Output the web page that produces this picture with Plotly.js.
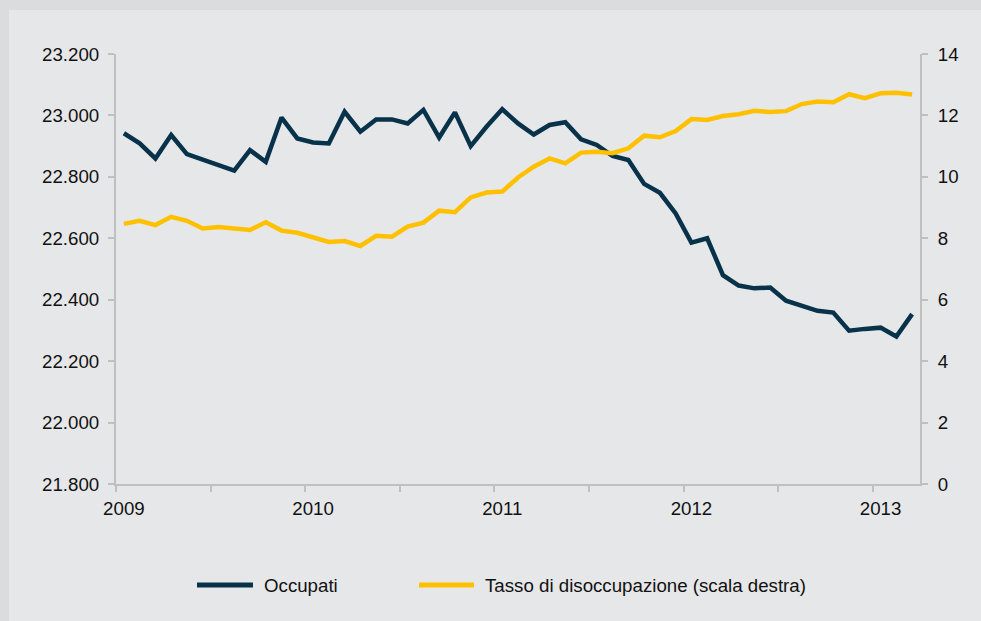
<!DOCTYPE html>
<html>
<head>
<meta charset="utf-8">
<script src="https://cdn.plot.ly/plotly-3.0.1.min.js"></script>
<style>
  html, body { margin: 0; padding: 0; background: #dbdcde; }
  #chart { position: absolute; left: 9px; top: 10px; width: 972px; height: 611px; }
</style>
</head>
<body>
<div id="chart"></div>
<script>
// Monthly observations, Jan 2009 – Mar 2013
const months = [
  "2009-01","2009-02","2009-03","2009-04","2009-05","2009-06","2009-07","2009-08","2009-09","2009-10","2009-11","2009-12",
  "2010-01","2010-02","2010-03","2010-04","2010-05","2010-06","2010-07","2010-08","2010-09","2010-10","2010-11","2010-12",
  "2011-01","2011-02","2011-03","2011-04","2011-05","2011-06","2011-07","2011-08","2011-09","2011-10","2011-11","2011-12",
  "2012-01","2012-02","2012-03","2012-04","2012-05","2012-06","2012-07","2012-08","2012-09","2012-10","2012-11","2012-12",
  "2013-01","2013-02","2013-03"
];
// Occupati (migliaia) – left axis
const occupati = [
  22942,22909,22860,22936,22874,22856,22838,22820,22887,22849,22993,22925,
  22912,22909,23012,22947,22987,22987,22974,23018,22928,23010,22900,22963,
  23020,22974,22938,22969,22978,22922,22904,22868,22855,22777,22748,22681,
  22586,22600,22480,22446,22437,22440,22397,22380,22364,22358,22299,22305,
  22309,22280,22353
];
// Tasso di disoccupazione (%) – right axis
const disoccupazione = [
  8.47,8.57,8.43,8.70,8.57,8.32,8.37,8.33,8.27,8.52,8.25,8.18,
  8.02,7.88,7.91,7.75,8.08,8.05,8.38,8.51,8.90,8.85,9.33,9.49,
  9.52,9.98,10.33,10.60,10.44,10.79,10.82,10.77,10.93,11.34,11.29,11.49,
  11.88,11.85,11.98,12.04,12.15,12.11,12.14,12.37,12.45,12.43,12.69,12.56,
  12.72,12.74,12.68
];
const seriesNames = ["Occupati", "Tasso di disoccupazione (scala destra)"];
const yearLabels = ["2009","2010","2011","2012","2013"];

const colNavy = "#07324a";
const colGold = "#ffc000";
const axisCol = "#c0c0c0";
const fontFam = "'Liberation Sans', Arial, sans-serif";
const fontSize = 18.7;

const idx = months.map((m, i) => i);
const yearTickVals = yearLabels.map(y => months.indexOf(y + "-01"));
const halfYearBounds = [];
for (let i = 0; i < months.length; i += 6) halfYearBounds.push(i - 0.5);

const traces = [
  { x: idx, y: occupati, name: seriesNames[0], type: "scatter", mode: "lines",
    line: { color: colNavy, width: 4.5, shape: "linear" }, yaxis: "y", showlegend: false },
  { x: idx, y: disoccupazione, name: seriesNames[1], type: "scatter", mode: "lines",
    line: { color: colGold, width: 4.5 }, yaxis: "y2", showlegend: false }
];

// custom legend (placed in paper coordinates below the plot)
const plotL = 116, plotW = 804, plotB = 474, plotH = 430;
const px = (pageX) => (pageX - plotL) / plotW;
const legY = (plotB - 575) / plotH;

const layout = {
  width: 972, height: 611,
  margin: { l: 107, r: 61, t: 44, b: 137 },
  paper_bgcolor: "#e6e7e9",
  plot_bgcolor: "#e6e7e9",
  separators: ",.",
  font: { family: fontFam, size: fontSize, color: "#111111" },
  showlegend: false,
  xaxis: {
    range: [-0.5, months.length - 0.5],
    tickmode: "array", tickvals: yearTickVals, ticktext: yearLabels,
    ticks: "", showgrid: false, zeroline: false,
    showline: true, linecolor: axisCol, linewidth: 2,
    ticklabelstandoff: 7,
    minor: { tickmode: "array", tickvals: halfYearBounds, ticks: "outside",
             ticklen: 6, tickwidth: 2, tickcolor: axisCol, showgrid: false },
    fixedrange: true
  },
  yaxis: {
    range: [21800, 23200], dtick: 200, tick0: 21800,
    tickformat: ",.0f",
    ticks: "outside", ticklen: 6, tickwidth: 2, tickcolor: axisCol,
    showline: true, linecolor: axisCol, linewidth: 2,
    showgrid: false, zeroline: false, ticklabelstandoff: 5,
    fixedrange: true
  },
  yaxis2: {
    range: [0, 14], dtick: 2, tick0: 0,
    overlaying: "y", side: "right",
    ticks: "outside", ticklen: 6, tickwidth: 2, tickcolor: axisCol,
    showline: true, linecolor: axisCol, linewidth: 2,
    showgrid: false, zeroline: false, ticklabelstandoff: 6,
    fixedrange: true
  },
  shapes: [
    { type: "line", xref: "paper", yref: "paper", x0: px(197), x1: px(253), y0: legY, y1: legY,
      line: { color: colNavy, width: 5 } },
    { type: "line", xref: "paper", yref: "paper", x0: px(419), x1: px(474), y0: legY, y1: legY,
      line: { color: colGold, width: 5 } }
  ],
  annotations: [
    { xref: "paper", yref: "paper", x: px(262), y: legY, xanchor: "left", yanchor: "middle",
      text: seriesNames[0], showarrow: false, font: { family: fontFam, size: fontSize, color: "#111111" } },
    { xref: "paper", yref: "paper", x: px(483), y: legY, xanchor: "left", yanchor: "middle",
      text: seriesNames[1], showarrow: false, font: { family: fontFam, size: fontSize, color: "#111111" } }
  ]
};

Plotly.newPlot("chart", traces, layout, { displayModeBar: false, staticPlot: true });
</script>
</body>
</html>
